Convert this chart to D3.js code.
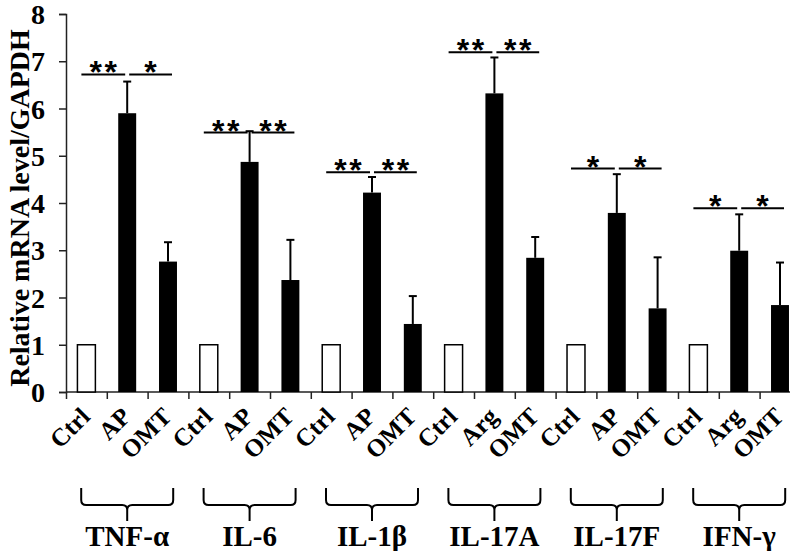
<!DOCTYPE html>
<html>
<head>
<meta charset="utf-8">
<script src="https://cdn.jsdelivr.net/npm/d3@7"></script>
<style>
  html, body { margin: 0; padding: 0; background: #fff; }
  svg { display: block; }
  text { font-family: "Liberation Serif", "Times New Roman", serif; font-weight: bold; fill: #000; }
</style>
</head>
<body>
<svg id="chart" width="800" height="551"></svg>
<script>
// ---------- data ----------
const groups = ["TNF-α", "IL-6", "IL-1β", "IL-17A", "IL-17F", "IFN-γ"];
const treatments = [
  ["Ctrl", "AP", "OMT"],
  ["Ctrl", "AP", "OMT"],
  ["Ctrl", "AP", "OMT"],
  ["Ctrl", "Arg", "OMT"],
  ["Ctrl", "AP", "OMT"],
  ["Ctrl", "Arg", "OMT"]
];
const means = [
  [1, 5.90, 2.76],
  [1, 4.87, 2.37],
  [1, 4.22, 1.44],
  [1, 6.32, 2.84],
  [1, 3.79, 1.77],
  [1, 2.99, 1.84]
];
const errors = [
  [0, 0.67, 0.41],
  [0, 0.65, 0.85],
  [0, 0.33, 0.59],
  [0, 0.76, 0.44],
  [0, 0.82, 1.08],
  [0, 0.77, 0.90]
];
const sigMarks = [["**", "*"], ["**", "**"], ["**", "**"], ["**", "**"], ["*", "*"], ["*", "*"]];
const sigLevels = [6.72, 5.49, 4.65, 7.19, 4.73, 3.89];
const yTicks = [0, 1, 2, 3, 4, 5, 6, 7, 8];
const yLabel = "Relative mRNA level/GAPDH";

// ---------- layout ----------
const svg = d3.select("#chart");
const x0 = 66, x1 = 800.4, yTop = 14, yBot = 392;
const nCat = groups.length * 3;

const bars = [];
groups.forEach((g, gi) => {
  treatments[gi].forEach((t, ti) => {
    bars.push({ key: gi * 3 + ti, group: g, gi, ti, label: t, v: means[gi][ti], e: errors[gi][ti] });
  });
});

const x = d3.scaleBand().domain(d3.range(nCat)).range([x0, x1]).paddingInner(0.56).paddingOuter(0.28);
const cx = k => x(k) + x.bandwidth() / 2;
const xb = d3.scaleLinear().domain([0, nCat]).range([x0, x1]);
const y = d3.scaleLinear().domain([0, 8]).range([yBot, yTop]);

// y axis
const yAxis = svg.append("g").attr("transform", `translate(${x0},0)`)
  .call(d3.axisLeft(y).tickValues(yTicks).tickFormat(d3.format("d")).tickSize(7).tickPadding(14));
yAxis.select(".domain").attr("stroke", "#222").attr("stroke-width", 1.5);
yAxis.selectAll(".tick line").attr("stroke", "#222").attr("stroke-width", 1.5);
yAxis.selectAll(".tick text").attr("font-size", 28).attr("dy", "0.34em")
  .attr("font-family", "Liberation Serif, Times New Roman, serif").attr("font-weight", "bold").attr("fill", "#000");

// x axis (ticks at category boundaries)
const xAxis = svg.append("g").attr("transform", `translate(0,${yBot})`)
  .call(d3.axisBottom(xb).tickValues(d3.range(0, nCat)).tickFormat("").tickSize(7));
xAxis.select(".domain").remove();
xAxis.selectAll(".tick line").attr("stroke", "#222").attr("stroke-width", 1.5);
svg.append("line").attr("x1", x0).attr("x2", 790).attr("y1", yBot).attr("y2", yBot)
  .attr("stroke", "#222").attr("stroke-width", 1.5);

// y label
svg.append("text")
  .attr("transform", `translate(29,208) rotate(-90)`)
  .attr("text-anchor", "middle").attr("font-size", 28)
  .text(yLabel);

// bars
svg.append("g").selectAll("rect").data(bars).join("rect")
  .attr("x", d => x(d.key)).attr("width", x.bandwidth())
  .attr("y", d => y(d.v)).attr("height", d => y(0) - y(d.v))
  .attr("fill", d => d.ti === 0 ? "#fff" : "#000")
  .attr("stroke", "#000").attr("stroke-width", d => d.ti === 0 ? 1.5 : 0);

// error bars
const eb = svg.append("g").selectAll("g").data(bars.filter(d => d.e > 0)).join("g");
eb.append("line").attr("x1", d => cx(d.key)).attr("x2", d => cx(d.key))
  .attr("y1", d => y(d.v)).attr("y2", d => y(d.v + d.e)).attr("stroke", "#000").attr("stroke-width", 2);
eb.append("line").attr("x1", d => cx(d.key) - 4).attr("x2", d => cx(d.key) + 4)
  .attr("y1", d => y(d.v + d.e)).attr("y2", d => y(d.v + d.e)).attr("stroke", "#000").attr("stroke-width", 2);

// significance lines and stars
groups.forEach((g, gi) => {
  const c0 = cx(gi * 3), c1 = cx(gi * 3 + 1), c2 = cx(gi * 3 + 2);
  const ly = y(sigLevels[gi]);
  const segs = [[c0 - 5, c1 - 2, sigMarks[gi][0]], [c1 + 2, c2 + 4, sigMarks[gi][1]]];
  segs.forEach(([a, b, m]) => {
    svg.append("line").attr("x1", a).attr("x2", b).attr("y1", ly).attr("y2", ly)
      .attr("stroke", "#000").attr("stroke-width", 2);
    const mid = (a + b) / 2;
    const n = m.length;
    for (let i = 0; i < n; i++) {
      svg.append("text").attr("x", mid + (i - (n - 1) / 2) * 15).attr("y", ly + 9)
        .attr("text-anchor", "middle").attr("font-size", 32)
        .style("font-family", "Liberation Sans, Arial, sans-serif")
        .text("*");
    }
  });
});

// category labels (rotated)
svg.append("g").selectAll("text").data(bars).join("text")
  .attr("transform", d => `translate(${cx(d.key) + 5},418) rotate(-45)`)
  .attr("text-anchor", "end").attr("font-size", 25)
  .text(d => d.label);

// group brackets and labels
groups.forEach((g, gi) => {
  const c = cx(gi * 3 + 1);
  const L = c - 46, R = c + 46, top = 488, hy = 505, bot = 521, r = 5;
  const p = d3.path();
  p.moveTo(L, top); p.lineTo(L, hy - r); p.quadraticCurveTo(L, hy, L + r, hy);
  p.lineTo(c - r, hy); p.quadraticCurveTo(c, hy, c, hy + r); p.lineTo(c, bot);
  p.moveTo(c, hy + r); p.quadraticCurveTo(c, hy, c + r, hy);
  p.lineTo(R - r, hy); p.quadraticCurveTo(R, hy, R, hy - r); p.lineTo(R, top);
  svg.append("path").attr("d", p.toString()).attr("fill", "none")
    .attr("stroke", "#000").attr("stroke-width", 2);
  svg.append("text").attr("x", c).attr("y", 546).attr("text-anchor", "middle")
    .attr("font-size", 29).text(g);
});
</script>
</body>
</html>
